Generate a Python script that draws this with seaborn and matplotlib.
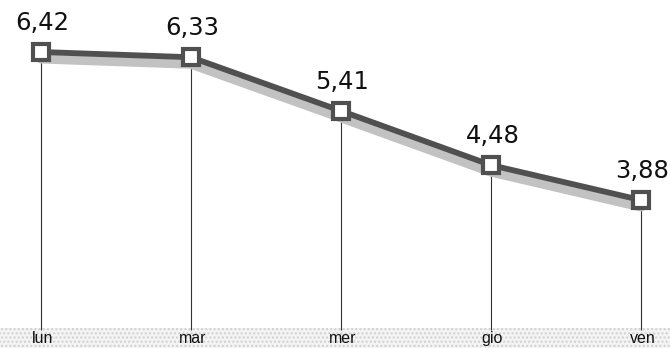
import matplotlib
matplotlib.use("Agg")
import matplotlib.pyplot as plt
import seaborn as sns
import pandas as pd

categories = ["lun", "mar", "mer", "gio", "ven"]
values = [6.42, 6.33, 5.41, 4.48, 3.88]
value_labels = ["6,42", "6,33", "5,41", "4,48", "3,88"]

sns.set_theme(style="white")
plt.rcParams['font.family'] = ['DejaVu Sans']

df = pd.DataFrame({"giorno": categories, "valore": values, "x": range(len(categories))})

fig = plt.figure(figsize=(6.7, 3.48), dpi=100)
ax = fig.add_axes([0, 0, 1, 1])

ymin, ymax = 1.343, 7.312
band_top = 1.686
ax.set_xlim(-0.273, 4.193)
ax.set_ylim(ymin, ymax)

# bottom band
ax.axhspan(ymin, band_top, facecolor="#f4f4f4", edgecolor="#cfcfcf", hatch="....", linewidth=0, zorder=0)

# drop lines
ax.vlines(df["x"], band_top - 0.03, df["valore"], color="#333333", linewidth=0.8, zorder=1)

# shadow line
sns.lineplot(data=df, x="x", y=df["valore"] - 0.12, ax=ax, color="#c2c2c2", linewidth=6.5, zorder=2,
             legend=False)
# main line
sns.lineplot(data=df, x="x", y="valore", ax=ax, color="#505050", linewidth=4.2, zorder=3,
             marker="s", markersize=12, markerfacecolor="white", markeredgecolor="#505050",
             markeredgewidth=3, legend=False)

for xi, v, lab in zip(df["x"], values, value_labels):
    ax.text(xi + 0.01, v + 0.375, lab, ha="center", va="baseline", fontsize=17.5,
            family="DejaVu Sans", color="#111111", zorder=5)

for xi, c in zip(df["x"], categories):
    ax.text(xi + 0.01, (ymin + band_top) / 2 - 0.01, c, ha="center", va="center", fontsize=11.5,
            family="Liberation Sans", color="#111111", zorder=5)

ax.set_xlabel("")
ax.set_ylabel("")
ax.set_xticks([])
ax.set_yticks([])
for s in ax.spines.values():
    s.set_visible(False)

fig.savefig("out.png", dpi=100)
